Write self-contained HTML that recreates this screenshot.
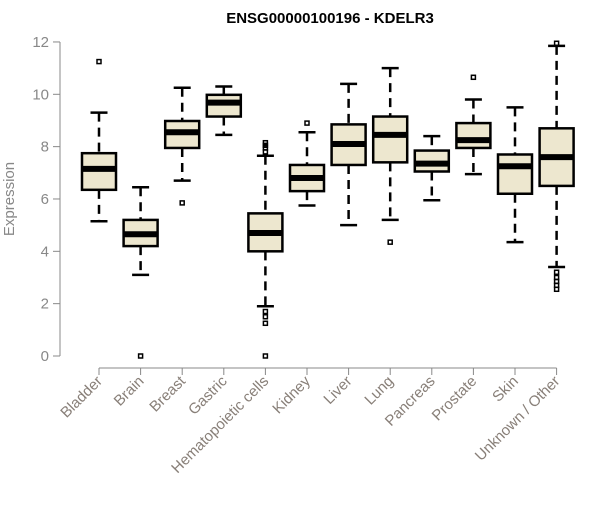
<!DOCTYPE html>
<html><head><meta charset="utf-8"><style>
body{margin:0;background:#fff;font-family:"Liberation Sans",sans-serif}
</style></head><body>
<svg id="c" width="600" height="500" xmlns="http://www.w3.org/2000/svg"></svg>
<script>
const categories=["Bladder","Brain","Breast","Gastric","Hematopoietic cells","Kidney","Liver","Lung","Pancreas","Prostate","Skin","Unknown / Other"];
const whiskerLow=[5.15,3.1,6.7,8.45,1.9,5.75,5.0,5.2,5.95,6.95,4.35,3.4];
const q1=[6.35,4.2,7.95,9.15,4.0,6.3,7.3,7.4,7.05,7.95,6.2,6.5];
const medians=[7.15,4.65,8.55,9.68,4.7,6.8,8.1,8.45,7.35,8.25,7.25,7.6];
const q3=[7.75,5.2,8.98,9.98,5.45,7.3,8.85,9.15,7.85,8.9,7.7,8.7];
const whiskerHigh=[9.3,6.45,10.25,10.3,7.65,8.55,10.4,11.0,8.4,9.8,9.5,11.85];
const outliers=[[11.25],[0],[5.85],[],[0,1.25,1.5,1.7,7.8,7.95,8.05,8.15],[8.9],[],[4.35],[],[10.65],[],[11.95,3.2,3.0,2.85,2.7,2.55]];
const yTicks=[0,2,4,6,8,10,12];
const svg=document.getElementById('c');const NS="http://www.w3.org/2000/svg";
const yS=v=>356-v*26.17;const xS=i=>99+i*41.6;
function el(t,a,p){const e=document.createElementNS(NS,t);for(const k in a)e.setAttribute(k,a[k]);(p||svg).appendChild(e);return e;}
const title=el('text',{x:330,y:23,'text-anchor':'middle','font-size':15,'font-weight':'bold',fill:'#000'});
title.textContent="ENSG00000100196 - KDELR3";


const yax=el('g',{});


el('line',{x1:60,x2:60,y1:yS(12),y2:yS(0),stroke:'#888'},yax);
yTicks.forEach(t=>{el('line',{x1:53,x2:60,y1:yS(t),y2:yS(t),stroke:'#888'},yax);
const tx=el('text',{x:49,y:yS(t)+5,'text-anchor':'end','font-size':15,fill:'#888'},yax);tx.textContent=t;

});
const yt=el('text',{x:0,y:0,transform:'translate(14,199) rotate(-90)','text-anchor':'middle','font-size':15,fill:'#888'});
yt.textContent="Expression";


const xax=el('g',{});


el('line',{x1:xS(0),x2:xS(11),y1:368,y2:368,stroke:'#888'},xax);
categories.forEach((c,i)=>{const x=xS(i);
el('line',{x1:x,x2:x,y1:368,y2:375,stroke:'#888'},xax);
const tx=el('text',{x:0,y:0,transform:`translate(${x+4},${382}) rotate(-45)`,'text-anchor':'end','font-size':15,fill:'#887f78'},xax);tx.textContent=c;


const g=el('g',{});


const w=17;
el('line',{x1:x,x2:x,y1:yS(whiskerHigh[i]),y2:yS(q3[i]),stroke:'#000','stroke-width':2.5,'stroke-dasharray':'9,6'},g);
el('line',{x1:x,x2:x,y1:yS(q1[i]),y2:yS(whiskerLow[i]),stroke:'#000','stroke-width':2.5,'stroke-dasharray':'9,6'},g);
el('line',{x1:x-8.5,x2:x+8.5,y1:yS(whiskerHigh[i]),y2:yS(whiskerHigh[i]),stroke:'#000','stroke-width':2.5},g);
el('line',{x1:x-8.5,x2:x+8.5,y1:yS(whiskerLow[i]),y2:yS(whiskerLow[i]),stroke:'#000','stroke-width':2.5},g);
el('rect',{x:x-w,y:yS(q3[i]),width:2*w,height:yS(q1[i])-yS(q3[i]),fill:'#ede7cf',stroke:'#000','stroke-width':2.5},g);
el('line',{x1:x-w,x2:x+w,y1:yS(medians[i]),y2:yS(medians[i]),stroke:'#000','stroke-width':6},g);
outliers[i].forEach(o=>el('rect',{x:x-2,y:yS(o)-2,width:4,height:4,fill:'none',stroke:'#000','stroke-width':1.5},g));
});
</script>
</body></html>
